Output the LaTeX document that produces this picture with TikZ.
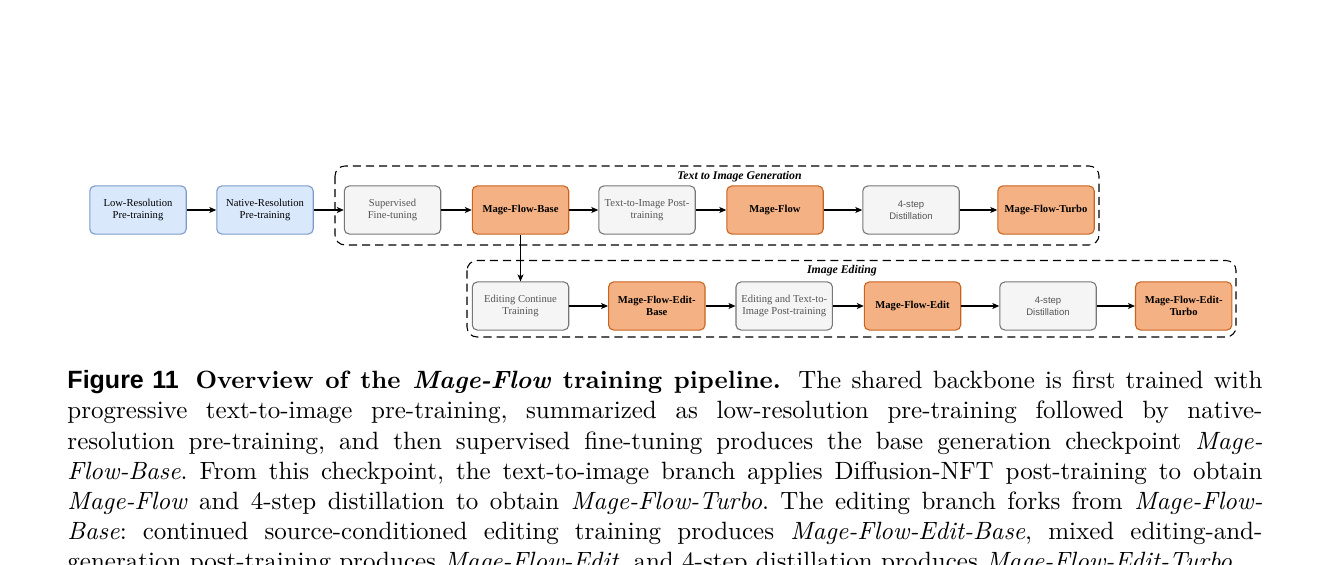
\documentclass[tikz,border=0pt]{standalone}
\usepackage{fontspec}
\newfontfamily\dserif{Liberation Serif}
\newfontfamily\dsans{Liberation Sans}
\usetikzlibrary{arrows.meta}
\definecolor{bluefill}{HTML}{DAE8FC}
\definecolor{bluedraw}{HTML}{7D9ACB}
\definecolor{grayfill}{HTML}{F5F5F5}
\definecolor{graydraw}{HTML}{777777}
\definecolor{graytext}{HTML}{555555}
\definecolor{orfill}{HTML}{F4B183}
\definecolor{ordraw}{HTML}{C8641E}
\newlength\capw
\setlength\capw{501.9pt}
\newcommand\capline[1]{\makebox[\capw][s]{#1}}
\frenchspacing
\begin{document}
\begin{tikzpicture}[x=0.42pt,y=-0.42pt,
  box/.style={rounded corners=2.1pt,minimum width=40.5pt,minimum height=20.2pt,
    line width=0.45pt,align=center,inner sep=0pt,
    font=\dserif\fontsize{4.45}{5.3}\selectfont},
  bluebox/.style={box,fill=bluefill,draw=bluedraw,text=black},
  graybox/.style={box,fill=grayfill,draw=graydraw,text=graytext},
  sansbox/.style={graybox,font=\dsans\fontsize{4.0}{5.0}\selectfont},
  orbox/.style={box,fill=orfill,draw=ordraw,text=black,
    font=\dserif\bfseries\fontsize{4.45}{5.3}\selectfont},
  flow/.style={line width=0.45pt,-{Stealth[length=2.9pt,width=2.5pt,inset=0.7pt]}},
  groupbox/.style={line width=0.45pt,dash pattern=on 3.4pt off 2.1pt,rounded corners=4.2pt},
  grouplabel/.style={inner sep=0pt,font=\dserif\bfseries\itshape\fontsize{4.95}{6}\selectfont},
  capstyle/.style={anchor=base west,inner sep=0pt,font=\fontsize{10.5}{12.6}\selectfont}
]
\fill[white] (0,0) rectangle (1331,565);
\useasboundingbox (0,0) rectangle (1331,565);

% group frames
\draw[groupbox] (335,166) rectangle (1099,245);
\draw[groupbox] (467,260.5) rectangle (1236,337);
\node[grouplabel] (t2ilabel) at (739.5,176.5) {Text to Image Generation};
\node[grouplabel] (editlabel) at (842,271) {Image Editing};

% top row
\node[bluebox] (low) at (138,210) {Low-Resolution\\Pre-training};
\node[bluebox] (native) at (265,210) {Native-Resolution\\Pre-training};
\node[graybox] (sft) at (392.5,210) {Supervised\\Fine-tuning};
\node[orbox] (base) at (520.5,210) {Mage-Flow-Base};
\node[graybox] (t2ipost) at (647,210) {Text-to-Image Post-\\training};
\node[orbox] (mf) at (775,210) {Mage-Flow};
\node[sansbox] (dist1) at (911,210) {4-step\\Distillation};
\node[orbox] (turbo) at (1046,210) {Mage-Flow-Turbo};

% bottom row
\node[graybox] (editcont) at (520.5,306) {Editing Continue\\Training};
\node[orbox] (editbase) at (656.8,306) {Mage-Flow-Edit-\\Base};
\node[graybox] (editpost) at (784.2,306) {Editing and Text-to-\\Image Post-training};
\node[orbox] (mfe) at (912.5,306) {Mage-Flow-Edit};
\node[sansbox] (dist2) at (1048,306) {4-step\\Distillation};
\node[orbox] (editturbo) at (1183.7,306) {Mage-Flow-Edit-\\Turbo};

% connectors
\draw[flow] (low) -- (native);
\draw[flow] (native) -- (sft);
\draw[flow] (sft) -- (base);
\draw[flow] (base) -- (t2ipost);
\draw[flow] (t2ipost) -- (mf);
\draw[flow] (mf) -- (dist1);
\draw[flow] (dist1) -- (turbo);
\draw[flow] (base) -- (editcont);
\draw[flow] (editcont) -- (editbase);
\draw[flow] (editbase) -- (editpost);
\draw[flow] (editpost) -- (mfe);
\draw[flow] (mfe) -- (dist2);
\draw[flow] (dist2) -- (editturbo);

% caption
\node[capstyle] (cap1) at (67,389) {\capline{{\dsans\bfseries Figure 11}\hspace{7pt}\textbf{Overview of the \textit{Mage-Flow} training pipeline.}\hspace{3pt} The shared backbone is first trained with}};
\node[capstyle] (cap2) at (67,419) {\capline{progressive text-to-image pre-training, summarized as low-resolution pre-training followed by native-}};
\node[capstyle] (cap3) at (67,449) {\capline{resolution pre-training, and then supervised fine-tuning produces the base generation checkpoint \textit{Mage-}}};
\node[capstyle] (cap4) at (67,479) {\capline{\textit{Flow-Base}. From this checkpoint, the text-to-image branch applies Diffusion-NFT post-training to obtain}};
\node[capstyle] (cap5) at (67,509) {\capline{\textit{Mage-Flow} and 4-step distillation to obtain \textit{Mage-Flow-Turbo}. The editing branch forks from \textit{Mage-Flow-}}};
\node[capstyle] (cap6) at (67,539) {\capline{\textit{Base}: continued source-conditioned editing training produces \textit{Mage-Flow-Edit-Base}, mixed editing-and-}};
\node[capstyle] (cap7) at (67,569) {\makebox[\capw][l]{generation post-training produces \textit{Mage-Flow-Edit}, and 4-step distillation produces \textit{Mage-Flow-Edit-Turbo}.}};
\end{tikzpicture}
\end{document}
